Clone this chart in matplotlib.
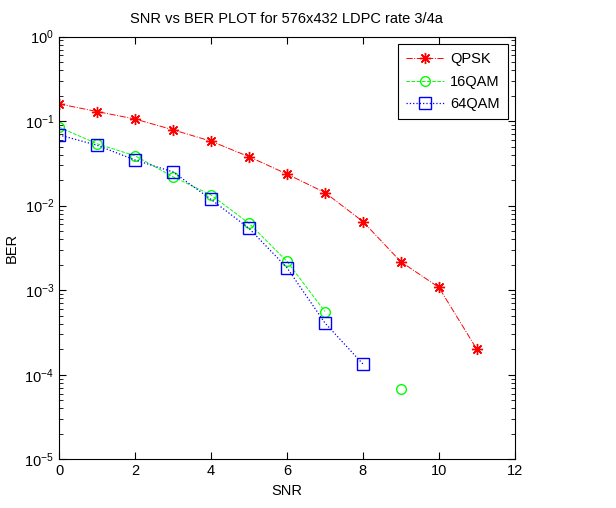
import numpy as np
import matplotlib
matplotlib.use("Agg")
import matplotlib.pyplot as plt

# BER values
snr = [0, 1, 2, 3, 4, 5, 6, 7, 8, 9, 10, 11]
ber_qpsk = [0.160, 0.130, 0.106, 0.079, 0.058, 0.038, 0.0237, 0.0143, 0.0065, 0.00217, 0.00108, 0.0002]
snr_16 = [0, 1, 2, 3, 4, 5, 6, 7, 8, 9]
ber_16qam = [0.085, 0.054, 0.039, 0.022, 0.0134, 0.0062, 0.0022, 0.00056, np.nan, 6.8e-5]
snr_64 = [0, 1, 2, 3, 4, 5, 6, 7, 8]
ber_64qam = [0.0687, 0.0519, 0.0347, 0.0251, 0.0119, 0.0054, 0.00185, 0.00041, 0.000134]

plt.rcParams["font.family"] = ["Liberation Sans", "DejaVu Sans"]
plt.rcParams["font.size"] = 10.5
plt.rcParams["mathtext.fontset"] = "custom"
plt.rcParams["mathtext.rm"] = "Liberation Sans"

fig = plt.figure(figsize=(6.16, 5.08), dpi=100)
ax = fig.add_axes([0.0958, 0.0959, 0.740, 0.832])

# matlab style '*' marker = 8-armed asterisk
ax.semilogy(snr, ber_qpsk, color="red", linestyle="-.", marker=(8, 2, 0),
            markersize=8, markeredgewidth=1.0, linewidth=0.7, label="QPSK")
ax.semilogy(snr_16, ber_16qam, color="#00ff00", linestyle="--", marker="o",
            markersize=7, markerfacecolor="none", linewidth=0.7, label="16QAM")
ax.semilogy(snr_64, ber_64qam, color="blue", linestyle=":", marker="s",
            markersize=8, markerfacecolor="none", linewidth=0.9, label="64QAM")

ax.set_xlim(0, 12)
ax.set_ylim(1e-5, 1e0)
ax.set_xticks([0, 2, 4, 6, 8, 10, 12])
ax.tick_params(which="both", direction="in", top=True, right=True)
ax.tick_params(which="major", length=5)
ax.tick_params(which="minor", length=3)
ax.tick_params(axis="x", which="minor", top=False, bottom=False)
for s in ax.spines.values():
    s.set_linewidth(0.8)

ax.set_title("SNR vs BER PLOT for 576x432 LDPC rate 3/4a", fontsize=10.5, pad=10)
ax.set_xlabel("SNR")
ax.set_ylabel("BER")

leg = ax.legend(loc="upper right", fancybox=False, edgecolor="black",
                framealpha=1, handlelength=2.6, handletextpad=0.4,
                borderpad=0.55, labelspacing=0.6, borderaxespad=0.5)
leg.get_frame().set_linewidth(0.8)

fig.savefig("out.png", dpi=100)
